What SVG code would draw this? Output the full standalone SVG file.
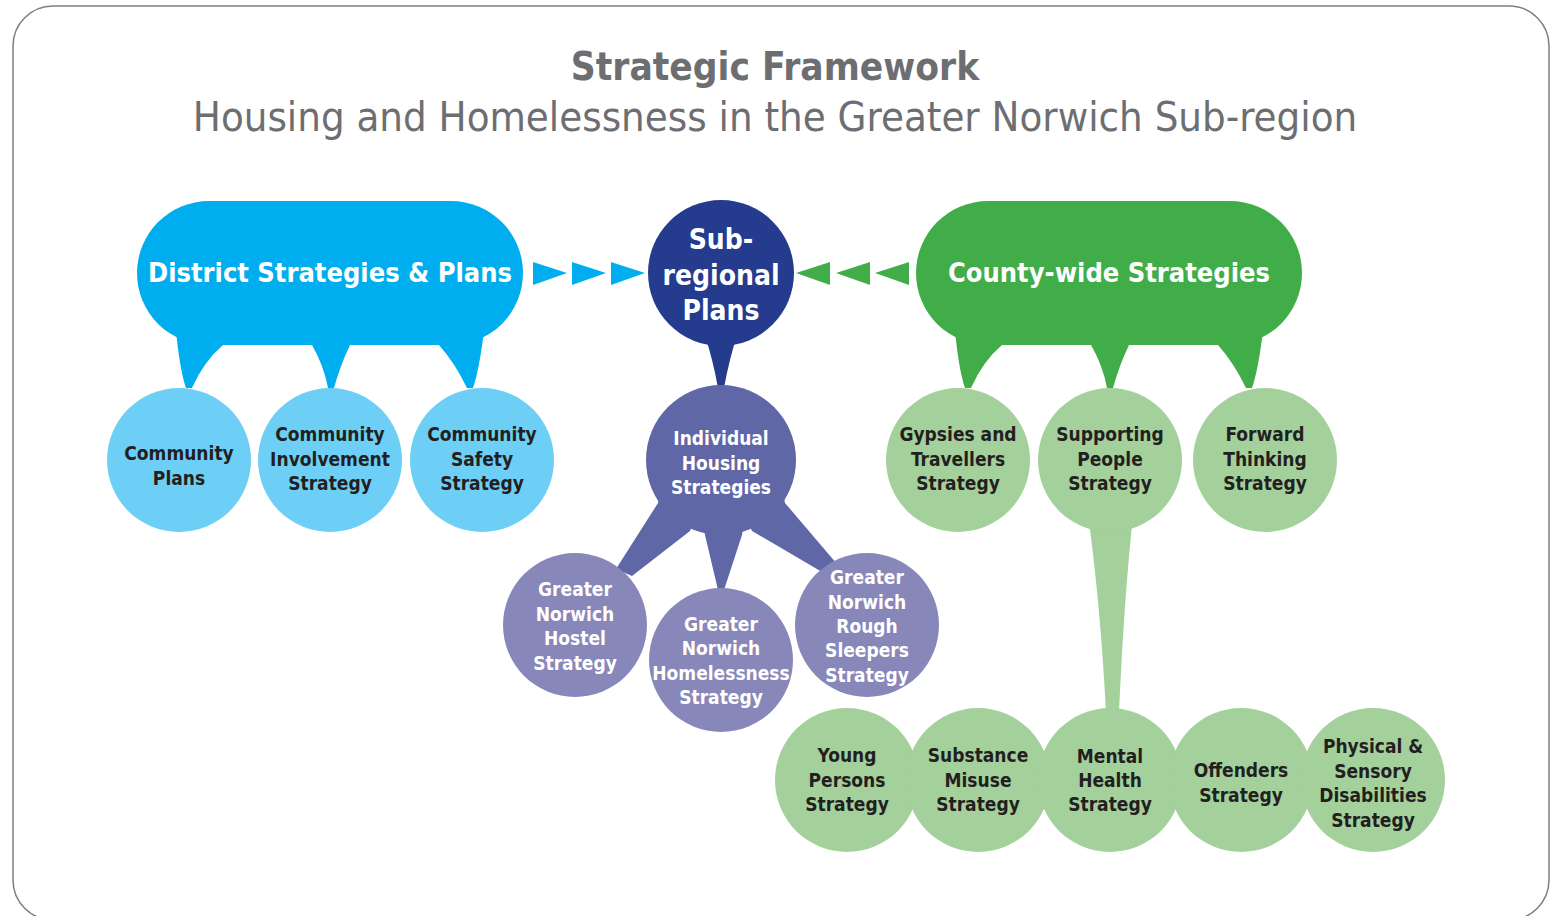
<svg xmlns="http://www.w3.org/2000/svg" xmlns:xlink="http://www.w3.org/1999/xlink" width="1555" height="916" viewBox="0 0 1555 916">
<style>
text{font-family:"DejaVu Sans Condensed","DejaVu Sans",sans-serif;font-stretch:condensed;text-anchor:middle;font-weight:bold}
.title{fill:#6d6e71;font-size:38.5px}
.sub{fill:#6d6e71;font-size:41.5px;font-weight:normal}
.blobt{fill:#fff;font-size:27px}
.big{fill:#fff;font-size:28px}
.dk{fill:#231f20;font-size:19px}
.wt{fill:#fff;font-size:19px}
.blue{fill:#00aeef}
.lblue{fill:#6dcff6}
.navy{fill:#253c8e}
.ind{fill:#5f67a7}
.pur{fill:#8787ba}
.green{fill:#41ad49}
.lgreen{fill:#a3d09b}
</style>
<defs>
<g id="blob">
<rect x="0" y="0" width="386" height="144" rx="72" ry="72"/>
<path d="M39 100 L39 130 Q43 170 49 187 L55 187 Q67 160 86 144 L86 100 Z"/>
<path d="M172 120 L175 144 Q187 165 191 187 L197 187 Q203 165 213 144 L213 120 Z"/>
<path d="M300 120 L302 144 Q318 162 330 187 L336 187 Q342 170 347 130 L347 100 Z"/>
</g>
</defs>
<rect x="13" y="6" width="1536" height="914" rx="40" ry="40" fill="#fff" stroke="#7f7f7f" stroke-width="1.5"/>
<text class="title" x="775" y="80">Strategic Framework</text>
<text class="sub" x="775" y="131">Housing and Homelessness in the Greater Norwich Sub-region</text>

<g id="connectors">
<polygon class="blue" points="533,262 567,273 533,285"/>
<polygon class="blue" points="572,262 606,273 572,285"/>
<polygon class="blue" points="611,262 645,273 611,285"/>
<polygon class="green" points="830,262 796,273 830,285"/>
<polygon class="green" points="870,262 836,273 870,285"/>
<polygon class="green" points="909,262 875,273 909,285"/>
<path class="navy" d="M702 320 L704 332 Q713 360 718 388 L724 388 Q729 360 738 332 L740 320 Z"/>
<path class="ind" d="M662 480 L658 503 L616 569 L632 576 L690 531 L700 510 Z"/>
<path class="ind" d="M700 510 L705 535 L718 590 L724 590 L742 535 L746 510 Z"/>
<path class="ind" d="M780 480 L785 503 L837 564 L822 572 L752 531 L742 510 Z"/>
<path class="lgreen" d="M1088 515 L1133 515 Q1124 600 1119 712 L1106 712 Q1100 600 1088 515 Z"/>
</g>

<g id="district">
<use xlink:href="#blob" class="blue" transform="translate(137,201)"/>
<text class="blobt" x="330" y="282">District Strategies &amp; Plans</text>
</g>
<g id="county">
<use xlink:href="#blob" class="green" transform="translate(916,201)"/>
<text class="blobt" x="1109" y="282">County-wide Strategies</text>
</g>
<g id="subregional">
<circle class="navy" cx="721" cy="273" r="73"/>
<text class="big" x="721" y="249">Sub-</text>
<text class="big" x="721" y="285">regional</text>
<text class="big" x="721" y="320">Plans</text>
</g>

<g id="community-plans">
<circle class="lblue" cx="179" cy="460" r="72"/>
<text class="dk" x="179" y="460">Community</text>
<text class="dk" x="179" y="485">Plans</text>
</g>
<g id="community-involvement">
<circle class="lblue" cx="330" cy="460" r="72"/>
<text class="dk" x="330" y="441">Community</text>
<text class="dk" x="330" y="466">Involvement</text>
<text class="dk" x="330" y="490">Strategy</text>
</g>
<g id="community-safety">
<circle class="lblue" cx="482" cy="460" r="72"/>
<text class="dk" x="482" y="441">Community</text>
<text class="dk" x="482" y="466">Safety</text>
<text class="dk" x="482" y="490">Strategy</text>
</g>

<g id="individual-housing">
<circle class="ind" cx="721" cy="460" r="75"/>
<text class="wt" x="721" y="445">Individual</text>
<text class="wt" x="721" y="470">Housing</text>
<text class="wt" x="721" y="494">Strategies</text>
</g>
<g id="hostel">
<circle class="pur" cx="575" cy="625" r="72"/>
<text class="wt" x="575" y="596">Greater</text>
<text class="wt" x="575" y="621">Norwich</text>
<text class="wt" x="575" y="645">Hostel</text>
<text class="wt" x="575" y="670">Strategy</text>
</g>
<g id="homelessness">
<circle class="pur" cx="721" cy="660" r="72"/>
<text class="wt" x="721" y="631">Greater</text>
<text class="wt" x="721" y="655">Norwich</text>
<text class="wt" x="721" y="680">Homelessness</text>
<text class="wt" x="721" y="704">Strategy</text>
</g>
<g id="rough-sleepers">
<circle class="pur" cx="867" cy="625" r="72"/>
<text class="wt" x="867" y="584">Greater</text>
<text class="wt" x="867" y="609">Norwich</text>
<text class="wt" x="867" y="633">Rough</text>
<text class="wt" x="867" y="657">Sleepers</text>
<text class="wt" x="867" y="682">Strategy</text>
</g>

<g id="gypsies">
<circle class="lgreen" cx="958" cy="460" r="72"/>
<text class="dk" x="958" y="441">Gypsies and</text>
<text class="dk" x="958" y="466">Travellers</text>
<text class="dk" x="958" y="490">Strategy</text>
</g>
<g id="supporting-people">
<circle class="lgreen" cx="1110" cy="460" r="72"/>
<text class="dk" x="1110" y="441">Supporting</text>
<text class="dk" x="1110" y="466">People</text>
<text class="dk" x="1110" y="490">Strategy</text>
</g>
<g id="forward-thinking">
<circle class="lgreen" cx="1265" cy="460" r="72"/>
<text class="dk" x="1265" y="441">Forward</text>
<text class="dk" x="1265" y="466">Thinking</text>
<text class="dk" x="1265" y="490">Strategy</text>
</g>

<g id="young-persons">
<circle class="lgreen" cx="847" cy="780" r="72"/>
<text class="dk" x="847" y="762">Young</text>
<text class="dk" x="847" y="787">Persons</text>
<text class="dk" x="847" y="811">Strategy</text>
</g>
<g id="substance-misuse">
<circle class="lgreen" cx="978" cy="780" r="72"/>
<text class="dk" x="978" y="762">Substance</text>
<text class="dk" x="978" y="787">Misuse</text>
<text class="dk" x="978" y="811">Strategy</text>
</g>
<g id="mental-health">
<circle class="lgreen" cx="1110" cy="780" r="72"/>
<text class="dk" x="1110" y="763">Mental</text>
<text class="dk" x="1110" y="787">Health</text>
<text class="dk" x="1110" y="811">Strategy</text>
</g>
<g id="offenders">
<circle class="lgreen" cx="1241" cy="780" r="72"/>
<text class="dk" x="1241" y="777">Offenders</text>
<text class="dk" x="1241" y="802">Strategy</text>
</g>
<g id="physical-sensory">
<circle class="lgreen" cx="1373" cy="780" r="72"/>
<text class="dk" x="1373" y="753">Physical &amp;</text>
<text class="dk" x="1373" y="778">Sensory</text>
<text class="dk" x="1373" y="802">Disabilities</text>
<text class="dk" x="1373" y="827">Strategy</text>
</g>
</svg>
